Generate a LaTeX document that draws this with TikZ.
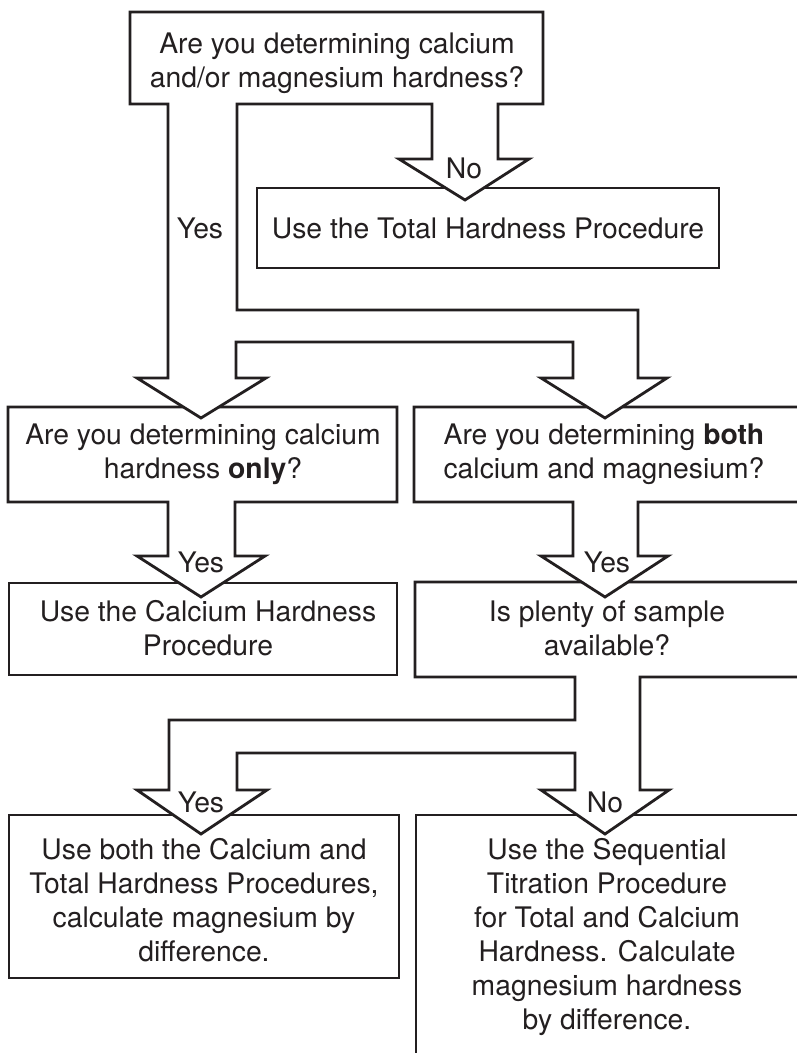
\documentclass[tikz,border=0pt]{standalone}
\usepackage{fontspec}
\setmainfont{TeX Gyre Heros}
\definecolor{ink}{HTML}{231F20}
\begin{document}
\begin{tikzpicture}[x=1pt,y=-1pt,
  flow/.style={draw=ink, line width=2.8pt, fill=white, line join=miter},
  lbl/.style={font=\fontsize{28.3}{34}\selectfont, align=center, inner sep=0pt, text=ink},
  tag/.style={font=\fontsize{28.3}{34}\selectfont, inner sep=0pt, text=ink}]
\useasboundingbox (0,0) rectangle (797,1053);
\clip (0,0) rectangle (797,1053);

% bottom boxes
\draw[flow] (9,815) rectangle (399,978);
\draw[flow] (416,815) rectangle (830,1080);

% "Is plenty of sample available?" box with split outlet
\draw[flow] (415,582) -- (830,582) -- (830,677) -- (640,677) -- (640,790)
  -- (669,790) -- (605,834) -- (541,790) -- (575,790) -- (575,753)
  -- (237,753) -- (237,790) -- (267,790) -- (201,834) -- (137,790)
  -- (169,790) -- (169,720) -- (575,720) -- (575,677) -- (415,677) -- cycle;

% "Use the Calcium Hardness Procedure" box
\draw[flow] (9,583) rectangle (397,675);

% "calcium only" box with Yes outlet
\draw[flow] (8,407) -- (397,407) -- (397,502) -- (235,502) -- (235,556)
  -- (265,556) -- (201,597) -- (137,556) -- (168,556) -- (168,502)
  -- (8,502) -- cycle;

% "both" box with Yes outlet
\draw[flow] (414,407) -- (830,407) -- (830,502) -- (638,502) -- (638,556)
  -- (668,556) -- (605,597) -- (541,556) -- (573,556) -- (573,502)
  -- (414,502) -- cycle;

% Total hardness box
\draw[flow] (257,188) rectangle (719,268);

% top question box with outlets
\draw[flow] (130,12) -- (543,12) -- (543,104) -- (498,104) -- (498,159)
  -- (529,159) -- (465,200) -- (399,159) -- (432,159) -- (432,104)
  -- (237,104) -- (237,310) -- (638,310) -- (638,378) -- (667,378)
  -- (605,418) -- (541,378) -- (573,378) -- (573,342) -- (236,342)
  -- (236,378) -- (266,378) -- (201,418) -- (137,378) -- (168,378)
  -- (168,104) -- (130,104) -- cycle;

% texts
\node[lbl] (q1) at (337,63) {Are you determining calcium\\and/or magnesium hardness?};
\node[lbl] (tot) at (488,228) {Use the Total Hardness Procedure};
\node[lbl] (q2) at (203,454) {Are you determining calcium\\hardness \textbf{only}?};
\node[lbl] (q3) at (604,454) {Are you determining \textbf{both}\\calcium and magnesium?};
\node[lbl] (ca) at (208,628) {Use the Calcium Hardness\\Procedure};
\node[lbl] (q4) at (607,628) {Is plenty of sample\\available?};
\node[lbl] (both) at (204,900) {Use both the Calcium and\\Total Hardness Procedures,\\calculate magnesium by\\difference.};
\node[lbl] (seq) at (607,937) {Use the Sequential\\Titration Procedure\\for Total and Calcium\\Hardness. Calculate\\magnesium hardness\\by difference.};

\node[tag] (t1) at (200,228) {Yes};
\node[tag] (t2) at (464,168) {No};
\node[tag] (t3) at (201,562) {Yes};
\node[tag] (t4) at (607,562) {Yes};
\node[tag] (t5) at (201,802) {Yes};
\node[tag] (t6) at (605,802) {No};
\end{tikzpicture}
\end{document}
